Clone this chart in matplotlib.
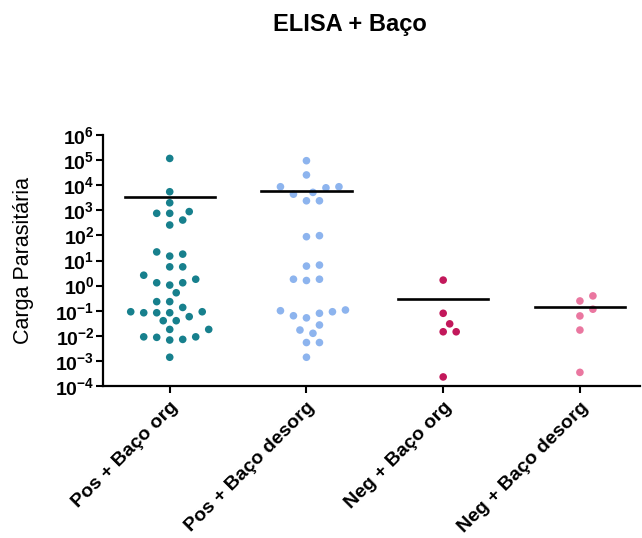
import matplotlib
matplotlib.use('Agg')
import matplotlib.pyplot as plt
import numpy as np

plt.rcParams['font.family'] = ['Liberation Sans', 'DejaVu Sans']
plt.rcParams['mathtext.fontset'] = 'custom'
plt.rcParams['mathtext.rm'] = 'Liberation Sans'
plt.rcParams['mathtext.bf'] = 'Liberation Sans:bold'

# data (parasite load)
groups = ['Pos + Baço org', 'Pos + Baço desorg', 'Neg + Baço org', 'Neg + Baço desorg']

pos_org = [117000, 5500, 2000, 760, 890, 760, 410, 260, 22, 15, 18,
           5.6, 5.6, 2.6, 1.3, 1.8, 1.05, 1.3, 0.52, 0.23, 0.23, 0.135,
           0.091, 0.091, 0.083, 0.058, 0.083, 0.083, 0.04, 0.04, 0.018,
           0.018, 0.0091, 0.0072, 0.0068, 0.0087, 0.0091, 0.0014]
pos_desorg = [95000, 25700, 8700, 7900, 8700, 5200, 4400, 2400, 2400,
              89, 98, 6.6, 6.0, 1.8, 1.6, 1.8, 0.107, 0.091, 0.063, 0.052,
              0.079, 0.10, 0.027, 0.017, 0.0126, 0.0054, 0.0054, 0.0014]
neg_org = [1.66, 0.079, 0.030, 0.0145, 0.0145, 0.00023]
neg_desorg = [0.39, 0.245, 0.115, 0.062, 0.017, 0.00035]

series = [pos_org, pos_desorg, neg_org, neg_desorg]
colors = ['#17808d', '#8db4ee', '#c2185b', '#ea77a0']


def swarm(ax, xc, vals, step=6.5, diam=10.0):
	# simple beeswarm in display pixels
	pts = ax.transData.transform(np.column_stack([np.full(len(vals), xc), vals]))
	order = np.argsort(pts[:, 1])
	placed = []
	out = pts.copy()
	for i in order:
		x0, y0 = pts[i]
		for k in [0] + [s * m for m in range(1, 30) for s in (1, -1)]:
			x = x0 + k * step
			if all((x - px) ** 2 + (y0 - py) ** 2 >= diam ** 2 for px, py in placed):
				break
		placed.append((x, y0))
		out[i] = (x, y0)
	return ax.transData.inverted().transform(out)


fig = plt.figure(figsize=(6.42, 5.38), dpi=100)
ax = fig.add_axes([0.160, 0.2825, 0.837, 0.4665])
ax.set_yscale('log')
ax.set_ylim(1e-4, 1e6)
ax.set_xlim(-0.49, 3.44)

for i, (vals, c) in enumerate(zip(series, colors)):
	xy = swarm(ax, i, vals)
	ax.scatter(xy[:, 0], xy[:, 1], s=30, color=c, edgecolors='none', zorder=3)
	m = np.mean(vals)
	ax.plot([i - 0.33, i + 0.33], [m, m], color='black', lw=1.9, zorder=4)

ax.set_yticks([10.0 ** e for e in range(-4, 7)])
ax.set_yticklabels([r'$\mathbf{10^{%d}}$' % e for e in range(-4, 7)], fontsize=14)
ax.minorticks_off()
ax.set_xticks(range(4))
ax.set_xticklabels(groups, rotation=45, ha='right', rotation_mode='anchor',
                   fontsize=14, fontweight='bold')
ax.tick_params(axis='both', direction='out', length=5, width=1.5, pad=1)
ax.tick_params(axis='x', pad=4)
for s in ['top', 'right']:
	ax.spines[s].set_visible(False)
for s in ['left', 'bottom']:
	ax.spines[s].set_linewidth(1.6)

ax.set_ylabel('Carga Parasitária', fontsize=15.5)
ax.yaxis.set_label_coords(-0.128, 0.5)
fig.text(0.545, 0.955, 'ELISA + Baço', ha='center', va='center',
         fontsize=17, fontweight='bold')

fig.savefig('out.png', dpi=100)
